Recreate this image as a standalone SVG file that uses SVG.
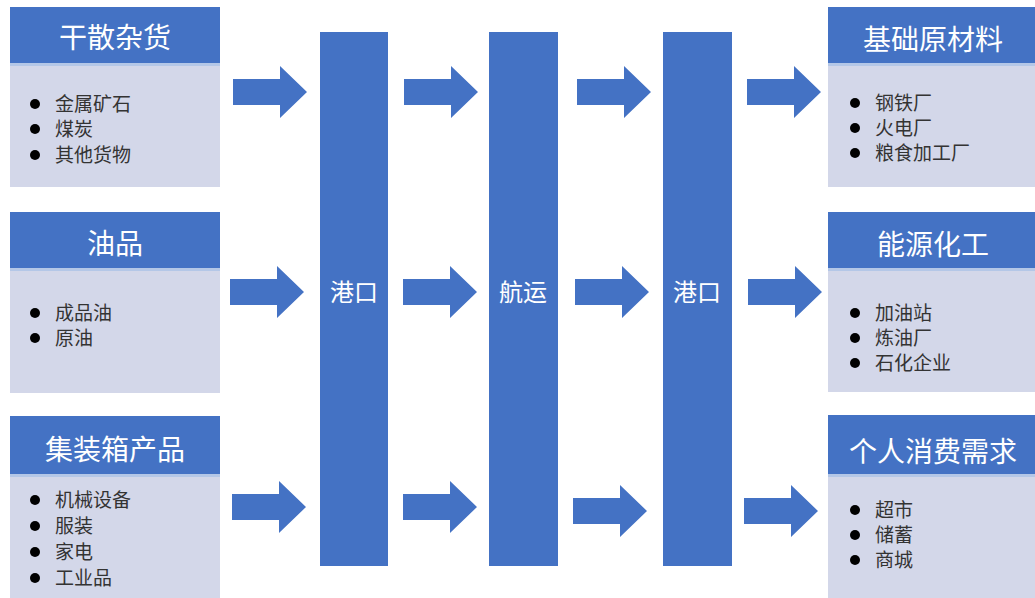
<svg xmlns="http://www.w3.org/2000/svg" width="1035" height="598" viewBox="0 0 1035 598">
<defs>
<style>
.hd{fill:#4472C4}
.bd{fill:#D3D7E9}
.sep{fill:#B4C7E7}
.bar{fill:#4472C4}
.arr{fill:#4472C4}
.ht{font-family:"Liberation Sans","Noto Sans CJK SC",sans-serif;font-size:28px;fill:#FFFFFF;text-anchor:middle;dominant-baseline:central}
.bt{font-family:"Liberation Sans","Noto Sans CJK SC",sans-serif;font-size:19px;fill:#333333;dominant-baseline:central}
.vt{font-family:"Liberation Sans","Noto Sans CJK SC",sans-serif;font-size:24px;fill:#FFFFFF;text-anchor:middle;dominant-baseline:central}
.dot{fill:#000000}
</style>
<path id="arrow" d="M0,-13 H47 V-26 L74,0 L47,26 V13 H0 Z"/>
</defs>
<rect width="1035" height="598" fill="#FFFFFF"/>

<g id="node-dry-bulk">
<rect class="bd" x="10" y="63" width="210" height="124"/>
<rect class="hd" x="10" y="7" width="210" height="56"/>
<rect class="sep" x="10" y="63" width="210" height="3"/>
<text class="ht" x="115" y="38">干散杂货</text>
<circle class="dot" cx="35" cy="104" r="5"/><text class="bt" x="55" y="104">金属矿石</text>
<circle class="dot" cx="35" cy="129" r="5"/><text class="bt" x="55" y="129">煤炭</text>
<circle class="dot" cx="35" cy="155" r="5"/><text class="bt" x="55" y="155">其他货物</text>
</g>

<g id="node-oil">
<rect class="bd" x="10" y="268" width="210" height="125"/>
<rect class="hd" x="10" y="212" width="210" height="56"/>
<rect class="sep" x="10" y="268" width="210" height="3"/>
<text class="ht" x="115" y="244">油品</text>
<circle class="dot" cx="35" cy="313" r="5"/><text class="bt" x="55" y="313">成品油</text>
<circle class="dot" cx="35" cy="338" r="5"/><text class="bt" x="55" y="338">原油</text>
</g>

<g id="node-container">
<rect class="bd" x="10" y="474" width="210" height="124"/>
<rect class="hd" x="10" y="416" width="210" height="58"/>
<rect class="sep" x="10" y="474" width="210" height="3"/>
<text class="ht" x="115" y="450">集装箱产品</text>
<circle class="dot" cx="35" cy="500" r="5"/><text class="bt" x="55" y="500">机械设备</text>
<circle class="dot" cx="35" cy="526" r="5"/><text class="bt" x="55" y="526">服装</text>
<circle class="dot" cx="35" cy="552" r="5"/><text class="bt" x="55" y="552">家电</text>
<circle class="dot" cx="35" cy="578" r="5"/><text class="bt" x="55" y="578">工业品</text>
</g>

<g id="node-port-1">
<rect class="bar" x="320" y="32" width="68" height="534"/>
<text class="vt" x="354" y="292">港口</text>
</g>

<g id="node-shipping">
<rect class="bar" x="489" y="32" width="69" height="534"/>
<text class="vt" x="523" y="292">航运</text>
</g>

<g id="node-port-2">
<rect class="bar" x="663" y="32" width="69" height="534"/>
<text class="vt" x="697" y="292">港口</text>
</g>

<g id="node-raw-materials">
<rect class="bd" x="828" y="63" width="207" height="124"/>
<rect class="hd" x="828" y="7" width="207" height="56"/>
<rect class="sep" x="828" y="63" width="207" height="3"/>
<text class="ht" x="933" y="40">基础原材料</text>
<circle class="dot" cx="855" cy="103" r="5"/><text class="bt" x="875" y="103">钢铁厂</text>
<circle class="dot" cx="855" cy="128" r="5"/><text class="bt" x="875" y="128">火电厂</text>
<circle class="dot" cx="855" cy="153" r="5"/><text class="bt" x="875" y="153">粮食加工厂</text>
</g>

<g id="node-energy">
<rect class="bd" x="828" y="268" width="207" height="124"/>
<rect class="hd" x="828" y="212" width="207" height="56"/>
<rect class="sep" x="828" y="268" width="207" height="3"/>
<text class="ht" x="933" y="245">能源化工</text>
<circle class="dot" cx="855" cy="313" r="5"/><text class="bt" x="875" y="313">加油站</text>
<circle class="dot" cx="855" cy="338" r="5"/><text class="bt" x="875" y="338">炼油厂</text>
<circle class="dot" cx="855" cy="363" r="5"/><text class="bt" x="875" y="363">石化企业</text>
</g>

<g id="node-consumer">
<rect class="bd" x="828" y="474" width="207" height="124"/>
<rect class="hd" x="828" y="415" width="207" height="59"/>
<rect class="sep" x="828" y="474" width="207" height="3"/>
<text class="ht" x="933" y="452">个人消费需求</text>
<circle class="dot" cx="855" cy="510" r="5"/><text class="bt" x="875" y="510">超市</text>
<circle class="dot" cx="855" cy="535" r="5"/><text class="bt" x="875" y="535">储蓄</text>
<circle class="dot" cx="855" cy="560" r="5"/><text class="bt" x="875" y="560">商城</text>
</g>

<g id="connectors">
<use href="#arrow" class="arr" x="233" y="92"/>
<use href="#arrow" class="arr" x="404" y="92"/>
<use href="#arrow" class="arr" x="577" y="92"/>
<use href="#arrow" class="arr" x="747" y="92"/>
<use href="#arrow" class="arr" x="230" y="292"/>
<use href="#arrow" class="arr" x="403" y="292"/>
<use href="#arrow" class="arr" x="575" y="292"/>
<use href="#arrow" class="arr" x="748" y="292"/>
<use href="#arrow" class="arr" x="232" y="507"/>
<use href="#arrow" class="arr" x="403" y="507"/>
<use href="#arrow" class="arr" x="573" y="511"/>
<use href="#arrow" class="arr" x="744" y="511"/>
</g>
</svg>
